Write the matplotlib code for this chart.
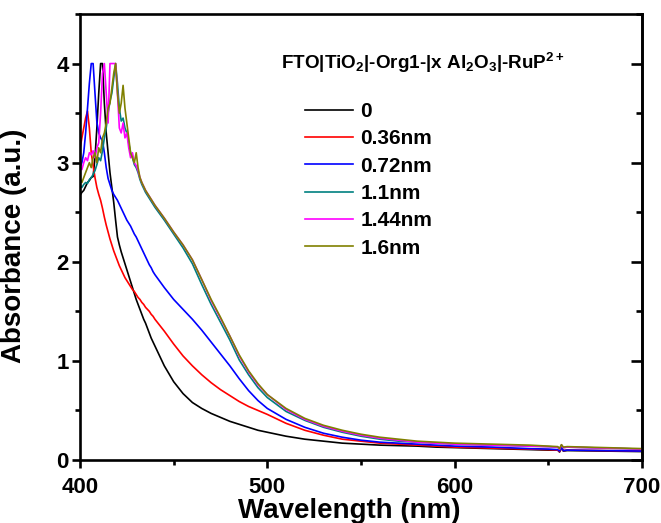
import matplotlib
matplotlib.use("Agg")
import matplotlib.pyplot as plt
from matplotlib.ticker import MultipleLocator

plt.rcParams['font.family'] = ['Liberation Sans', 'DejaVu Sans']
plt.rcParams['font.weight'] = 'bold'
plt.rcParams['mathtext.default'] = 'regular'

# wavelengths (nm)
wl_peak = list(range(400, 441))
wl_tail = [445, 450, 455, 460, 465, 470, 475, 480, 485, 490, 495, 500, 510, 520, 530,
           540, 550, 560, 570, 580, 590, 600, 620, 640, 650, 655, 656, 657, 658, 660, 680, 700]

labels = ['0', '0.36nm', '0.72nm', '1.1nm', '1.44nm', '1.6nm']
colors = ['#000000', '#FF0000', '#0000FF', '#008080', '#FF00FF', '#808000']

a0_peak = [2.67, 2.70, 2.72, 2.76, 2.80, 2.82, 2.85, 2.86, 3.05, 3.35, 3.70, 4.00, 4.00, 3.60, 3.30,
           3.10, 2.90, 2.75, 2.60, 2.42, 2.25, 2.17, 2.10, 2.04, 1.98, 1.92, 1.86, 1.80, 1.74, 1.68,
           1.62, 1.57, 1.52, 1.47, 1.42, 1.38, 1.33, 1.28, 1.23, 1.19, 1.15]
a0_tail = [0.95, 0.79, 0.67, 0.58, 0.52, 0.47, 0.43, 0.39, 0.36, 0.33, 0.30, 0.28, 0.24, 0.21, 0.19,
           0.17, 0.16, 0.15, 0.145, 0.14, 0.13, 0.125, 0.115, 0.105, 0.10, 0.10, 0.08, 0.12, 0.09, 0.095, 0.09, 0.085]

a036_peak = [3.14, 3.25, 3.35, 3.45, 3.52, 3.35, 3.10, 2.97, 2.85, 2.75, 2.68, 2.62, 2.54, 2.45, 2.37,
             2.30, 2.23, 2.17, 2.11, 2.06, 2.01, 1.96, 1.92, 1.88, 1.84, 1.81, 1.78, 1.75, 1.72, 1.70,
             1.67, 1.64, 1.62, 1.59, 1.57, 1.54, 1.52, 1.50, 1.47, 1.45, 1.42]
a036_tail = [1.30, 1.17, 1.05, 0.95, 0.86, 0.78, 0.71, 0.65, 0.59, 0.54, 0.50, 0.46, 0.37, 0.30, 0.25,
             0.21, 0.19, 0.17, 0.16, 0.15, 0.14, 0.13, 0.12, 0.11, 0.105, 0.10, 0.085, 0.12, 0.095, 0.10, 0.095, 0.09]

a072_peak = [2.95, 3.00, 3.10, 3.30, 3.55, 3.80, 4.00, 4.00, 3.70, 3.41, 3.30, 3.25, 3.22, 3.10, 2.95,
             2.84, 2.78, 2.72, 2.68, 2.65, 2.62, 2.58, 2.54, 2.50, 2.46, 2.42, 2.39, 2.36, 2.32, 2.28,
             2.25, 2.21, 2.17, 2.13, 2.09, 2.05, 2.01, 1.97, 1.94, 1.90, 1.87]
a072_tail = [1.74, 1.62, 1.52, 1.42, 1.31, 1.19, 1.07, 0.95, 0.82, 0.70, 0.60, 0.52, 0.41, 0.33, 0.27,
             0.23, 0.20, 0.18, 0.17, 0.16, 0.15, 0.14, 0.13, 0.115, 0.11, 0.105, 0.09, 0.125, 0.095, 0.10, 0.095, 0.09]

a11_peak = [2.77, 2.75, 2.78, 2.80, 2.79, 2.83, 2.85, 2.88, 2.92, 2.98, 3.05, 3.02, 3.12, 3.25, 3.35,
            3.50, 3.62, 3.70, 3.85, 4.00, 3.80, 3.55, 3.42, 3.45, 3.35, 3.30, 3.20, 3.10, 3.05, 2.98,
            2.95, 2.90, 2.83, 2.78, 2.74, 2.70, 2.67, 2.64, 2.61, 2.58, 2.55]
a11_tail = [2.42, 2.28, 2.14, 1.98, 1.77, 1.57, 1.39, 1.21, 1.01, 0.86, 0.73, 0.63, 0.49, 0.40, 0.33,
            0.28, 0.24, 0.21, 0.19, 0.18, 0.17, 0.16, 0.15, 0.14, 0.135, 0.13, 0.11, 0.15, 0.125, 0.13, 0.12, 0.11]

a144_peak = [2.97, 2.93, 3.00, 3.05, 3.02, 3.10, 3.08, 3.12, 3.05, 3.15, 3.20, 3.50, 3.90, 4.00, 3.70,
             3.40, 4.00, 4.00, 4.00, 4.00, 3.70, 3.35, 3.30, 3.40, 3.25, 3.30, 3.15, 3.05, 3.10, 3.00,
             2.97, 2.92, 2.85, 2.80, 2.76, 2.72, 2.69, 2.66, 2.63, 2.60, 2.57]
a144_tail = [2.44, 2.30, 2.17, 2.02, 1.82, 1.61, 1.43, 1.25, 1.05, 0.89, 0.76, 0.66, 0.51, 0.41, 0.34,
             0.29, 0.25, 0.22, 0.20, 0.18, 0.17, 0.16, 0.15, 0.14, 0.135, 0.13, 0.11, 0.15, 0.125, 0.13, 0.12, 0.11]

a16_peak = [2.84, 2.80, 2.85, 2.90, 2.95, 3.00, 2.95, 3.05, 3.10, 3.00, 3.15, 3.10, 3.25, 3.30, 3.40,
            3.55, 3.60, 3.75, 3.90, 4.00, 3.70, 3.50, 3.60, 3.78, 3.55, 3.40, 3.25, 3.10, 3.05, 3.00,
            3.10, 2.95, 2.85, 2.80, 2.76, 2.72, 2.69, 2.66, 2.63, 2.60, 2.57]
a16_tail = [2.44, 2.30, 2.17, 2.02, 1.82, 1.62, 1.44, 1.25, 1.06, 0.90, 0.77, 0.66, 0.52, 0.42, 0.35,
            0.30, 0.26, 0.23, 0.21, 0.19, 0.18, 0.17, 0.16, 0.15, 0.14, 0.135, 0.115, 0.155, 0.13, 0.135, 0.125, 0.115]

series = [a0_peak + a0_tail, a036_peak + a036_tail, a072_peak + a072_tail,
          a11_peak + a11_tail, a144_peak + a144_tail, a16_peak + a16_tail]
wl = wl_peak + wl_tail

fig = plt.figure(figsize=(6.61, 5.23), dpi=100)
ax = fig.add_axes([80/661, 1 - 460/523, (642 - 80)/661, (460 - 14)/523])

for y, c, lab in zip(series, colors, labels):
    ax.plot(wl, y, color=c, lw=1.2, label=lab)

ax.set_xlim(400, 700)
ax.set_ylim(0, 4.5)
ax.xaxis.set_major_locator(MultipleLocator(100))
ax.xaxis.set_minor_locator(MultipleLocator(50))
ax.yaxis.set_major_locator(MultipleLocator(1))
ax.yaxis.set_minor_locator(MultipleLocator(0.5))

for s in ax.spines.values():
    s.set_linewidth(1.9)

ax.tick_params(which='both', direction='out', top=False, right=False, width=1.9)
ax.tick_params(which='major', length=6, labelsize=16)
ax.tick_params(which='minor', length=3.5)
ax.tick_params(axis='x', which='major', pad=6)
ax.tick_params(axis='y', which='major', pad=2)
# right-side inward ticks
axr = ax.secondary_yaxis('right')
axr.yaxis.set_major_locator(MultipleLocator(1))
axr.yaxis.set_minor_locator(MultipleLocator(0.5))
axr.tick_params(which='both', direction='in', width=1.9, labelright=False)
axr.tick_params(which='major', length=8)
axr.tick_params(which='minor', length=4)
axr.spines['right'].set_linewidth(1.9)

for lbl in ax.get_xticklabels() + ax.get_yticklabels():
    lbl.set_fontweight('bold')

ax.set_xlabel('Wavelength (nm)', fontsize=20, fontweight='bold')
ax.xaxis.set_label_coords(0.479, -0.085)
ax.set_ylabel('Absorbance (a.u.)', fontsize=20, fontweight='bold')
ax.yaxis.set_label_coords(-0.095, 0.48)

fig.text(281/661, 1 - 63/523, r'FTO|TiO$_2$|-Org1-|x Al$_2$O$_3$|-RuP$^{2+}$',
         fontsize=13.6, fontweight='bold', va='center', ha='left')

ax.legend(loc='upper left', bbox_to_anchor=(305/661, 1 - 102/523), bbox_transform=fig.transFigure,
          frameon=False, handlelength=2.3, handletextpad=0.35, labelspacing=0.4,
          borderpad=0, borderaxespad=0, prop={'weight': 'bold', 'size': 15})

fig.savefig('out.png', dpi=100)
